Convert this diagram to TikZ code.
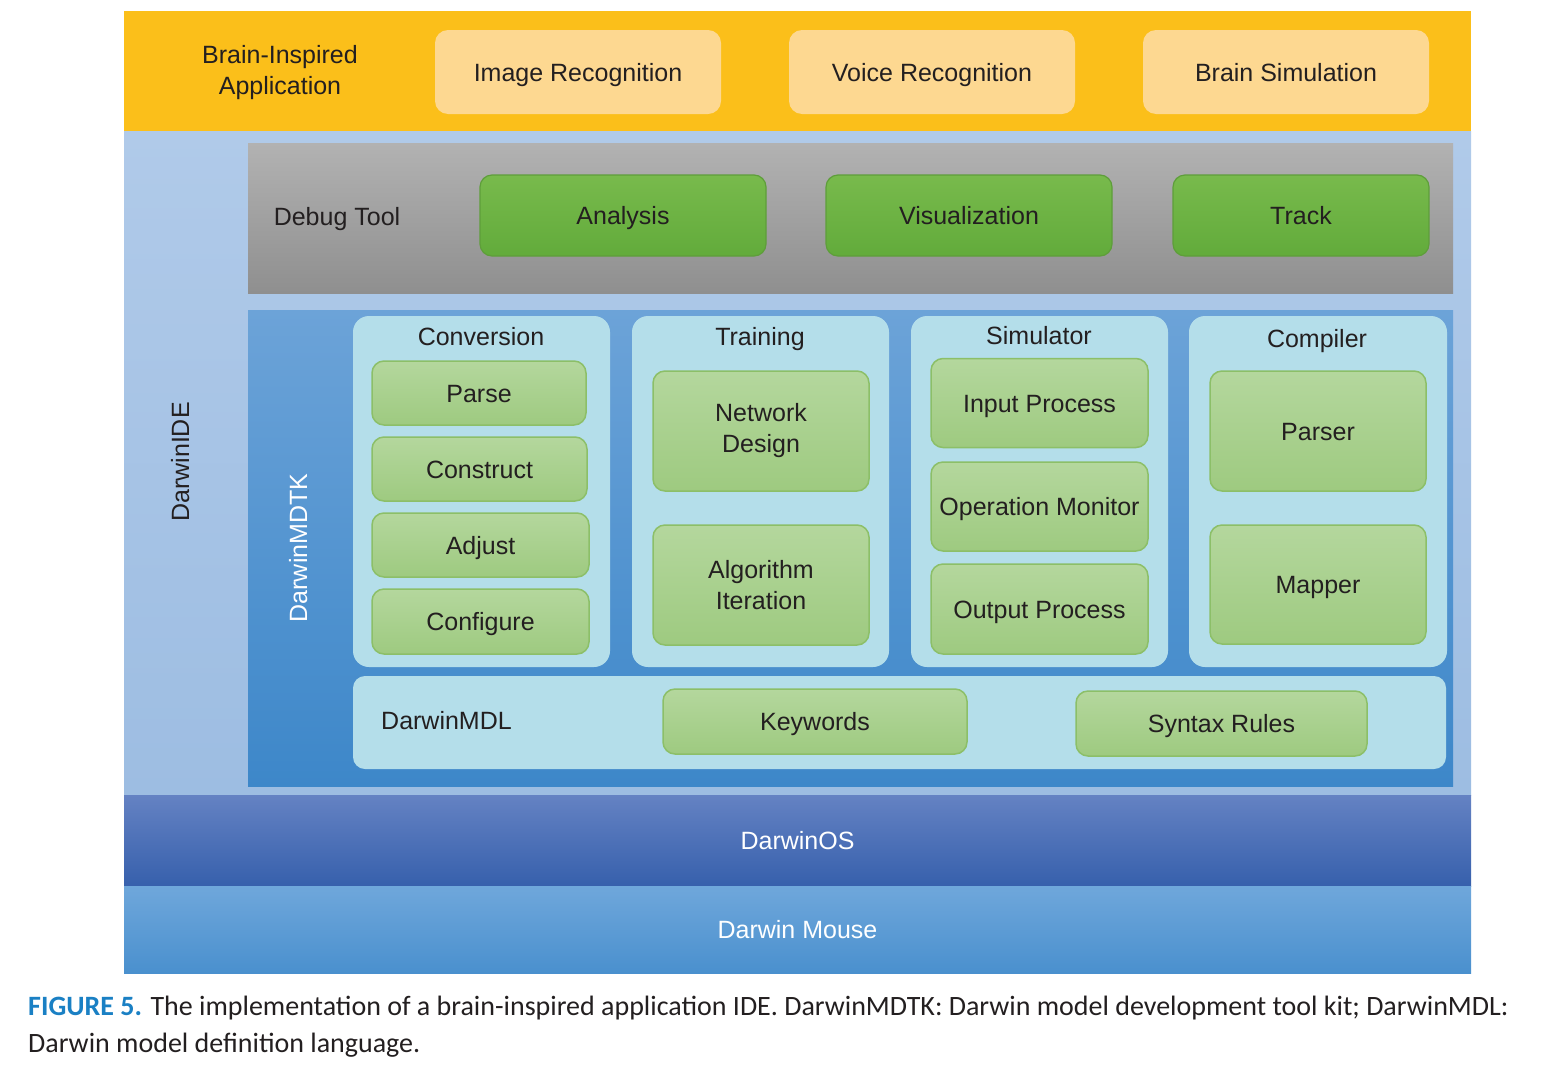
\documentclass[tikz,border=0pt]{standalone}
\usepackage{fontspec}
\setmainfont{Liberation Sans}
\newfontfamily\capfont{Carlito}

\definecolor{appband}{HTML}{FBBF1A}
\definecolor{appbox}{HTML}{FDD891}
\definecolor{idetop}{HTML}{B0CAE9}
\definecolor{idebot}{HTML}{9DBDE2}
\definecolor{dbgtop}{HTML}{B2B2B2}
\definecolor{dbgbot}{HTML}{8F8F8F}
\definecolor{gtop}{HTML}{78BA4C}
\definecolor{gbot}{HTML}{62AB3B}
\definecolor{gline}{HTML}{5E9E3A}
\definecolor{mdtktop}{HTML}{6CA3D8}
\definecolor{mdtkbot}{HTML}{3D87C9}
\definecolor{panel}{HTML}{B4DEEA}
\definecolor{ltop}{HTML}{B4D79D}
\definecolor{lbot}{HTML}{9ECA80}
\definecolor{lline}{HTML}{8CBF68}
\definecolor{ostop}{HTML}{6482C3}
\definecolor{osbot}{HTML}{3760AC}
\definecolor{mstop}{HTML}{6FA7DB}
\definecolor{msbot}{HTML}{4A90CE}
\definecolor{txt}{HTML}{231F20}
\definecolor{figblue}{HTML}{1A80C4}

\tikzset{
  every node/.style={font=\fontsize{25}{31}\selectfont, text=txt, inner sep=0pt},
  one/.style={text height=18pt, text depth=0pt},
  band/.style={rectangle, one, minimum width=1347pt},
  appbx/.style={one, rounded corners=13pt, fill=appbox},
  dgreen/.style={one, rounded corners=12pt, draw=gline, line width=1.2pt, top color=gtop, bottom color=gbot},
  lgreen/.style={rounded corners=12pt, draw=lline, line width=1.5pt, top color=ltop, bottom color=lbot},
  pnl/.style={rounded corners=16pt, fill=panel},
  sz/.style 2 args={minimum width=#1pt, minimum height=#2pt},
}

\begin{document}
\begin{tikzpicture}[x=1pt, y=-1pt]
  \useasboundingbox[fill=white] (0,0) rectangle (1557,1071);

  % application layer
  \node[band, fill=appband, minimum height=120pt] (app) at (797.5,71) {};
  \node[align=center] (applbl) at (280,73) {Brain-Inspired\\Application};
  \node[appbx, sz={286}{84}] (imgrec) at (578,72) {Image Recognition};
  \node[appbx, sz={286}{84}] (voicerec) at (932,72) {Voice Recognition};
  \node[appbx, sz={286}{84}] (brainsim) at (1286,72) {Brain Simulation};

  % IDE
  \node[band, top color=idetop, bottom color=idebot, minimum height=664pt] (ide) at (797.5,463) {};
  \node[one, rotate=90] (idelbl) at (180,462) {DarwinIDE};

  % debug tool
  \node[top color=dbgtop, bottom color=dbgbot, sz={1205}{150}] (debug) at (850.5,218) {};
  \node[one] (debuglbl) at (337,216) {Debug Tool};
  \node[dgreen, sz={286}{81}] (analysis) at (623,215.5) {Analysis};
  \node[dgreen, sz={286}{81}] (visual) at (969,215.5) {Visualization};
  \node[dgreen, sz={256}{81}] (track) at (1301,215.5) {Track};

  % MDTK
  \node[top color=mdtktop, bottom color=mdtkbot, sz={1205}{476}] (mdtk) at (850.5,548) {};
  \node[one, rotate=90, text=white] (mdtklbl) at (298,548) {DarwinMDTK};

  \node[pnl, sz={257}{351}] (conv) at (481.5,491.5) {};
  \node[pnl, sz={257}{351}] (train) at (760.5,491.5) {};
  \node[pnl, sz={257}{351}] (sim) at (1039.5,491.5) {};
  \node[pnl, sz={258}{351}] (comp) at (1318,491.5) {};
  \node[one] (convlbl) at (481,336) {Conversion};
  \node[one] (trainlbl) at (760,336) {Training};
  \node[one] (simlbl) at (1039,335) {Simulator};
  \node[one] (complbl) at (1317,338) {Compiler};

  % conversion
  \node[lgreen, one, sz={214}{64}] (parse) at (479,393) {Parse};
  \node[lgreen, one, sz={215}{64}] (construct) at (479.5,469) {Construct};
  \node[lgreen, one, sz={217}{64}] (adjust) at (480.5,545) {Adjust};
  \node[lgreen, one, sz={217}{65}] (configure) at (480.5,621.5) {Configure};

  % training
  \node[lgreen, sz={216}{120}, align=center] (netdes) at (761,431) {Network\\Design};
  \node[lgreen, sz={216}{120}, align=center] (algit) at (761,585) {Algorithm\\Iteration};

  % simulator
  \node[lgreen, one, sz={217}{89}] (inproc) at (1039.5,403) {Input Process};
  \node[lgreen, one, sz={217}{89}] (opmon) at (1039.5,506.5) {Operation Monitor};
  \node[lgreen, one, sz={217}{90}] (outproc) at (1039.5,609) {Output Process};

  % compiler
  \node[lgreen, one, sz={216}{120}] (parser) at (1318,431) {Parser};
  \node[lgreen, one, sz={216}{119}] (mapper) at (1318,584.5) {Mapper};

  % MDL
  \node[pnl, rounded corners=12pt, sz={1093}{93}] (mdl) at (899.5,722.5) {};
  \node[one, anchor=west] (mdllbl) at (381,720) {DarwinMDL};
  \node[lgreen, one, sz={304}{65}] (keywords) at (815,721.5) {Keywords};
  \node[lgreen, one, sz={291}{65}] (syntax) at (1221.5,723.5) {Syntax Rules};

  % OS and hardware
  \node[band, top color=ostop, bottom color=osbot, minimum height=91pt, text=white] (os) at (797.5,840.5) {DarwinOS};
  \node[band, top color=mstop, bottom color=msbot, minimum height=87pt, text=white] (mouse) at (797.5,929.5) {Darwin Mouse};

  % caption
  \node[anchor=base west, font=\capfont\fontsize{28}{33}\selectfont] (cap1) at (28,1015)
    {\textcolor{figblue}{\bfseries FIGURE 5.} The implementation of a brain-inspired application IDE. DarwinMDTK: Darwin model development tool kit; DarwinMDL:};
  \node[anchor=base west, font=\capfont\fontsize{28}{33}\selectfont] (cap2) at (28,1052)
    {Darwin model definition language.};
\end{tikzpicture}
\end{document}
